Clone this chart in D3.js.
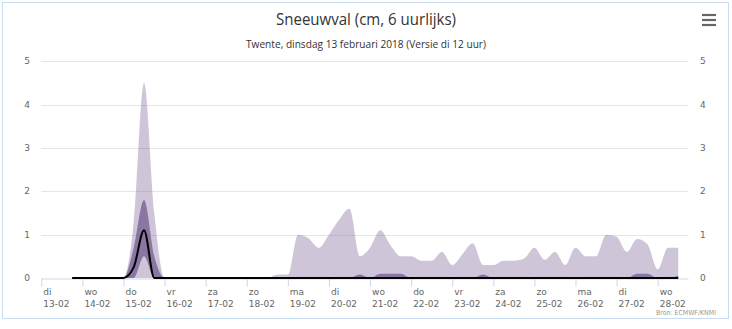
<!DOCTYPE html>
<html><head><meta charset="utf-8">
<script src="https://cdn.jsdelivr.net/npm/d3@7"></script>
<style>
html,body{margin:0;padding:0;background:#fff;}
svg{display:block;}
</style>
</head><body>
<svg id="c" width="732" height="329"></svg>
<script>
// ---- data (6-hourly, starting 13-02-2018 18:00) ----
const startTime = "2018-02-13T18:00:00Z";
const stepHours = 6;
const dayNames = ["zo","ma","di","wo","do","vr","za"];
const yTicks = [0,1,2,3,4,5];
const title = "Sneeuwval (cm, 6 uurlijks)";
const subtitle = "Twente, dinsdag 13 februari 2018 (Versie di 12 uur)";
const credit = "Bron: ECMWF/KNMI";

const rangeHigh = [0,0,0,0,0, 0,1.3,4.5,1.5,0, 0,0,0,0,0, 0,0,0,0,0,
  0.08,0.08,1.0,0.92,0.7, 1.0,1.35,1.6,0.5,0.7, 1.1,0.75,0.5,0.5,0.4, 0.4,0.6,0.3,0.55,0.8,
  0.3,0.3,0.4,0.4,0.45, 0.7,0.42,0.6,0.3,0.7, 0.5,0.5,1.0,0.95,0.6, 0.9,0.78,0.2,0.7,0.7];
const rangeLow = new Array(60).fill(0);
const quartHigh = [0,0,0,0,0, 0,0.7,1.8,0.5,0, 0,0,0,0,0, 0,0,0,0,0,
  0,0,0,0,0, 0,0,0,0.08,0, 0.1,0.1,0.1,0,0, 0,0,0,0,0,
  0.08,0,0,0,0, 0,0,0,0,0, 0,0,0,0,0, 0.1,0.1,0,0,0.05];
const quartLow = [0,0,0,0,0, 0,0,0.5,0,0, 0,0,0,0,0, 0,0,0,0,0,
  0,0,0,0,0, 0,0,0,0,0, 0,0,0,0,0, 0,0,0,0,0,
  0,0,0,0,0, 0,0,0,0,0, 0,0,0,0,0, 0,0,0,0,0];
const median = [0,0,0,0,0, 0,0.25,1.1,0,0, 0,0,0,0,0, 0,0,0,0,0,
  0,0,0,0,0, 0,0,0,0,0, 0,0,0,0,0, 0,0,0,0,0,
  0,0,0,0,0, 0,0,0,0,0, 0,0,0,0,0, 0,0,0,0,0];

// ---- layout ----
const svg = d3.select("#c");
const plot = {left: 41.3, right: 688.5, top: 61.3, bottom: 278};

const t0 = new Date(startTime);
const times = rangeHigh.map((_, i) => new Date(t0.getTime() + i * stepHours * 3600e3));

const x = d3.scaleUtc()
  .domain([new Date("2018-02-13T00:00:00Z"), new Date("2018-02-28T18:00:00Z")])
  .range([plot.left, plot.right]);
const y = d3.scaleLinear().domain([0, 5]).range([plot.bottom, plot.top]);

// border
svg.append("rect").attr("x", 2.5).attr("y", 2.5).attr("width", 726).attr("height", 316)
  .attr("fill", "#fff").attr("stroke", "#c9dbee").attr("stroke-width", 1);

// title
svg.append("text").attr("x", 366).attr("y", 25).attr("text-anchor", "middle")
  .attr("font-family", "'Liberation Sans Narrow','Open Sans',sans-serif").attr("font-size", 16)
  .attr("fill", "#333").attr("textLength", 180).attr("lengthAdjust", "spacingAndGlyphs").text(title);
svg.append("text").attr("x", 366).attr("y", 48).attr("text-anchor", "middle")
  .attr("font-family", "'Liberation Sans Narrow','Open Sans',sans-serif").attr("font-size", 11)
  .attr("fill", "#333").attr("textLength", 240).attr("lengthAdjust", "spacingAndGlyphs").text(subtitle);

// menu icon
[15, 20, 25].forEach(yy => svg.append("line").attr("x1", 702).attr("x2", 716).attr("y1", yy).attr("y2", yy)
  .attr("stroke", "#666").attr("stroke-width", 2.2));

// gridlines
const grid = svg.append("g");
yTicks.filter(d => d > 0).forEach(d => {
  grid.append("line").attr("x1", plot.left).attr("x2", plot.right)
    .attr("y1", Math.round(y(d)) + 0.5).attr("y2", Math.round(y(d)) + 0.5)
    .attr("stroke", "#e6e6e6").attr("stroke-width", 1);
});

// y axis labels (both sides)
const yl = svg.append("g").attr("font-family", "'DejaVu Sans',sans-serif").attr("font-size", 9).attr("fill", "#666");
yTicks.forEach(d => {
  yl.append("text").attr("x", 30).attr("y", y(d) + 3).attr("text-anchor", "end").text(d);
  yl.append("text").attr("x", 700).attr("y", y(d) + 3).attr("text-anchor", "start").text(d);
});

// series
const curve = d3.curveMonotoneX;
const gPlot = svg.append("g");
const areaOuter = d3.area().curve(curve).x((d, i) => x(times[i])).y0((d, i) => y(rangeLow[i])).y1(d => y(d));
gPlot.append("path").datum(rangeHigh).attr("d", areaOuter).attr("fill", "#6b4c8a").attr("fill-opacity", 0.32);
const areaInner = d3.area().curve(curve).x((d, i) => x(times[i])).y0((d, i) => y(quartLow[i])).y1(d => y(d));
gPlot.append("path").datum(quartHigh).attr("d", areaInner).attr("fill", "#5e3f7e").attr("fill-opacity", 0.6);

// x axis
const days = d3.utcDay.range(new Date("2018-02-13T00:00:00Z"), new Date("2018-02-28T12:00:00Z"));
const xAxis = d3.axisBottom(x).tickValues(days).tickSize(8).tickFormat("");
const gx = svg.append("g").attr("transform", `translate(0,${plot.bottom + 0.5})`).call(xAxis);
gx.select(".domain").attr("stroke", "#ccd6eb").attr("d", `M${plot.left},0.5H${plot.right}`);
gx.selectAll(".tick line").attr("stroke", "#ccd6eb");
gx.selectAll(".tick").each(function(d) {
  const t = d3.select(this).append("text").attr("fill", "#666").attr("text-anchor", "start")
    .attr("font-family", "'DejaVu Sans',sans-serif").attr("font-size", 9);
  t.append("tspan").attr("x", 1.5).attr("y", 16).text(dayNames[d.getUTCDay()]);
  t.append("tspan").attr("x", 1.5).attr("y", 28).text(d3.utcFormat("%d-%m")(d));
});

// median line
const line = d3.line().curve(curve).x((d, i) => x(times[i])).y(d => y(d));
gPlot.raise();
gPlot.append("path").datum(median).attr("d", line).attr("fill", "none").attr("stroke", "#000").attr("stroke-width", 2);

// credit
svg.append("text").attr("x", 716).attr("y", 315).attr("text-anchor", "end")
  .attr("font-family", "'DejaVu Sans',sans-serif").attr("font-size", 7).attr("fill", "#999")
  .attr("textLength", 60).attr("lengthAdjust", "spacingAndGlyphs").text(credit);
</script>
</body></html>
